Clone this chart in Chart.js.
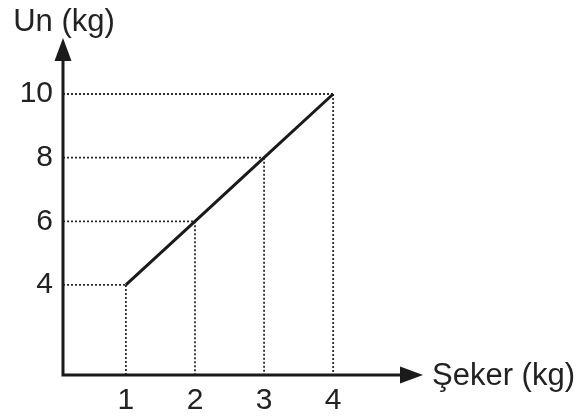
<!DOCTYPE html>
<html>
<head>
<meta charset="utf-8">
<script src="https://cdn.jsdelivr.net/npm/chart.js@4"></script>
<style>
html,body{margin:0;padding:0;background:#fff;}
#wrap{width:583px;height:417px;}
</style>
</head>
<body>
<div id="wrap"><canvas id="c" width="583" height="417"></canvas></div>
<script>
const seker = [1, 2, 3, 4];
const un = [4, 6, 8, 10];
const xTicks = [1, 2, 3, 4];
const yTicks = [4, 6, 8, 10];
const xTitle = 'Şeker (kg)';
const yTitle = 'Un (kg)';

const FONT = '"Liberation Sans", Arial, sans-serif';
const INK = '#1a1a1a';

const points = seker.map((x, i) => ({x: x, y: un[i]}));

const guidePlugin = {
  id: 'guides',
  beforeDatasetsDraw(chart) {
    const {ctx, chartArea, scales} = chart;
    ctx.save();
    ctx.strokeStyle = '#2a2a2a';
    ctx.lineWidth = 1.8;
    ctx.setLineDash([2, 2]);
    points.forEach(p => {
      const px = scales.x.getPixelForValue(p.x);
      const py = scales.y.getPixelForValue(p.y);
      ctx.beginPath();
      ctx.moveTo(chartArea.left, py);
      ctx.lineTo(px, py);
      ctx.moveTo(px, py);
      ctx.lineTo(px, chartArea.bottom);
      ctx.stroke();
    });
    ctx.restore();
  },
  afterDatasetsDraw(chart) {
    const {ctx, chartArea} = chart;
    const L = chartArea.left, B = chartArea.bottom, T = chartArea.top, R = chartArea.right;
    ctx.save();
    ctx.strokeStyle = INK;
    ctx.fillStyle = INK;
    ctx.lineWidth = 3;
    ctx.setLineDash([]);
    ctx.beginPath();
    ctx.moveTo(L, B + 1.5);
    ctx.lineTo(L, T + 18);
    ctx.moveTo(L - 1.5, B);
    ctx.lineTo(R - 18, B);
    ctx.stroke();
    // y arrow
    ctx.beginPath();
    ctx.moveTo(L, T);
    ctx.lineTo(L - 8.5, T + 23);
    ctx.lineTo(L + 8.5, T + 23);
    ctx.closePath();
    ctx.fill();
    // x arrow
    ctx.beginPath();
    ctx.moveTo(R, B);
    ctx.lineTo(R - 23, B - 8.5);
    ctx.lineTo(R - 23, B + 8.5);
    ctx.closePath();
    ctx.fill();
    // titles
    ctx.font = '31px ' + FONT;
    ctx.fillStyle = '#222';
    ctx.textBaseline = 'middle';
    ctx.textAlign = 'center';
    ctx.fillText(yTitle, L + 1, 22);
    ctx.textAlign = 'left';
    ctx.fillText(xTitle, R + 9, B + 1);
    ctx.restore();
  }
};

new Chart(document.getElementById('c'), {
  type: 'line',
  data: {
    datasets: [{
      data: points,
      borderColor: INK,
      borderWidth: 3,
      pointRadius: 0,
      fill: false,
      tension: 0
    }]
  },
  options: {
    responsive: false,
    animation: false,
    devicePixelRatio: 1,
    layout: {padding: {left: 0, top: 38, right: 160, bottom: 0}},
    plugins: {legend: {display: false}, tooltip: {enabled: false}, title: {display: false}},
    scales: {
      x: {
        type: 'linear',
        min: 0.09,
        max: 5.3,
        grid: {display: false},
        border: {display: false},
        ticks: {color: '#222', font: {family: FONT, size: 30}, padding: 0, maxRotation: 0},
        afterBuildTicks: s => { s.ticks = xTicks.map(v => ({value: v})); },
        afterFit: s => { s.height = 42; }
      },
      y: {
        type: 'linear',
        min: 1.17,
        max: 11.76,
        grid: {display: false},
        border: {display: false},
        ticks: {color: '#222', font: {family: FONT, size: 30}, padding: 2},
        afterBuildTicks: s => { s.ticks = yTicks.map(v => ({value: v})); },
        afterFit: s => { s.width = 63; }
      }
    }
  },
  plugins: [guidePlugin]
});
</script>
</body>
</html>
